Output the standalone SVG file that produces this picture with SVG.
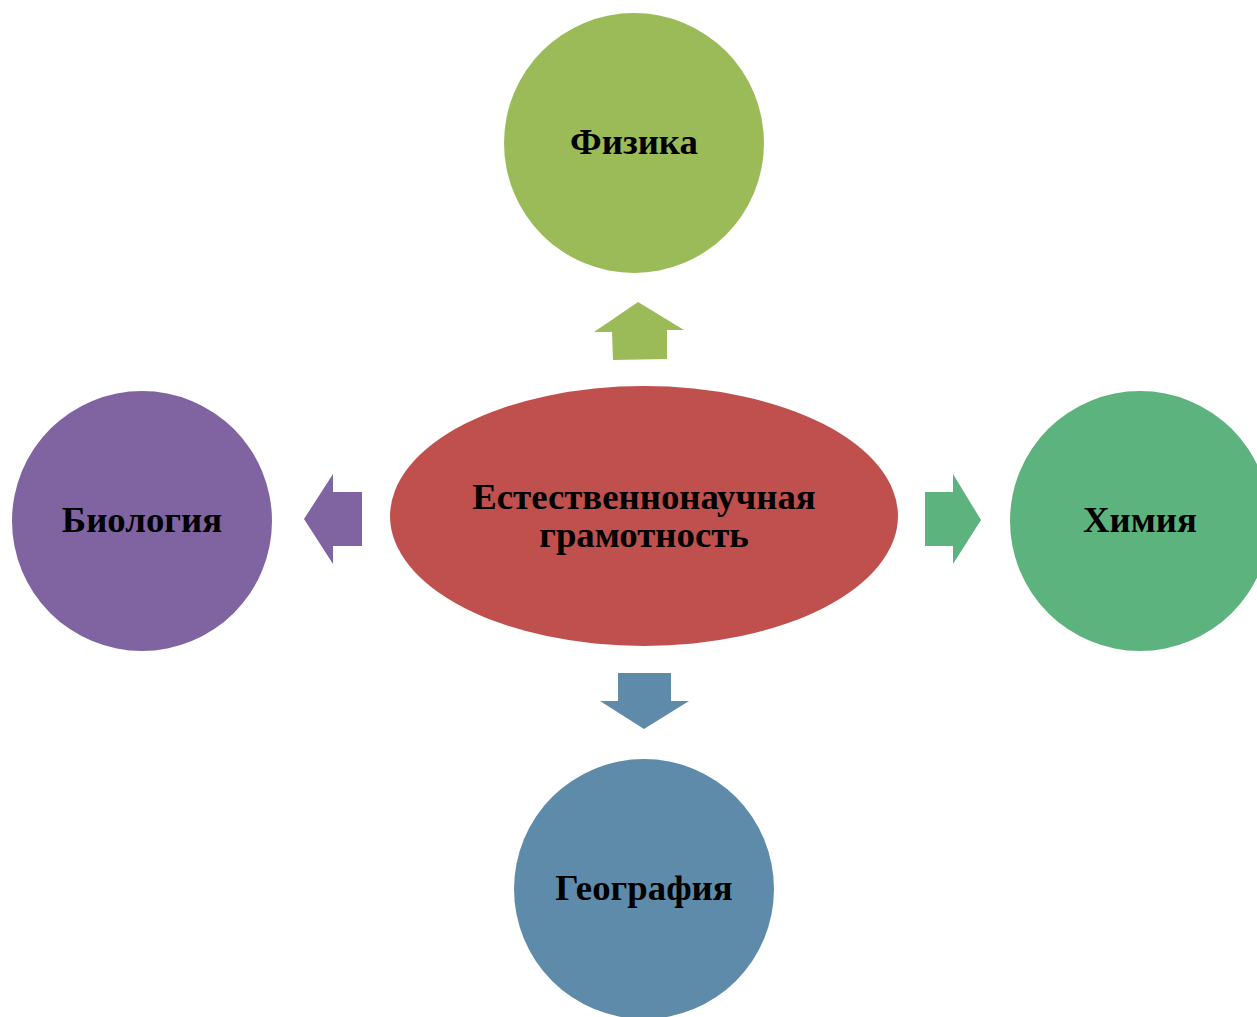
<svg xmlns="http://www.w3.org/2000/svg" width="1257" height="1017" viewBox="0 0 1257 1017">
<style>
.lbl{font-family:"Liberation Serif","Times New Roman",serif;font-weight:bold;font-size:36.8px;fill:#000;text-anchor:middle}
</style>
<rect width="1257" height="1017" fill="#fff"/>
<g id="connectors">
<polygon fill="#9BBB59" points="638,302 684,330 667,330 667,359 613,360 612,332 594,332"/>
<polygon fill="#8064A2" points="304,519 333,474 333,492 362,492 362,546 333,546 333,564"/>
<polygon fill="#5DB37E" points="981,520 953,474 953,492 925,492 925,546 953,546 953,564"/>
<polygon fill="#5F8BAA" points="644,729 689,701 671,701 671,673 618,673 618,701 600,701"/>
</g>
<g id="center">
<ellipse cx="644" cy="516" rx="254" ry="130" fill="#C0504D"/>
<text class="lbl" x="644" y="509">Естественнонаучная</text>
<text class="lbl" x="644" y="547">грамотность</text>
</g>
<g id="physics">
<circle cx="634" cy="143" r="130" fill="#9BBB59"/>
<text class="lbl" x="634" y="154">Физика</text>
</g>
<g id="biology">
<circle cx="142" cy="521" r="130" fill="#8064A2"/>
<text class="lbl" x="142" y="532">Биология</text>
</g>
<g id="chemistry">
<circle cx="1140" cy="521" r="130" fill="#5DB37E"/>
<text class="lbl" x="1140" y="532">Химия</text>
</g>
<g id="geography">
<circle cx="644" cy="889" r="130" fill="#5F8BAA"/>
<text class="lbl" x="644" y="900">География</text>
</g>
</svg>
